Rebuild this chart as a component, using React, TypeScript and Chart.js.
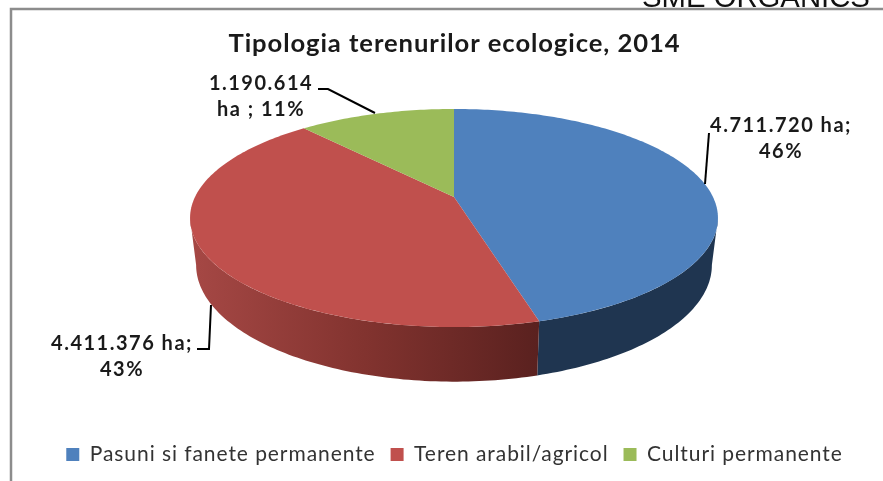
import React, { useEffect, useRef } from "react";
import { Chart, registerables } from "chart.js";

Chart.register(...registerables);

const categories = ["Pasuni si fanete permanente", "Teren arabil/agricol", "Culturi permanente"];
const hectares = [4711720, 4411376, 1190614];
const topColors = ["#4f81bd", "#c0504d", "#9bbb59"];
const chartTitle = "Tipologia terenurilor ecologice, 2014";
const watermark = "SME ORGANICS";
const sliceLabels = [["4.711.720 ha;", "46%"], ["4.411.376 ha;", "43%"], ["1.190.614", "ha ; 11%"]];

const CX = 454;
const K = 0.1927;
const A = 259;
const B = 105;
const TOP = { y: 197, sx: 1, sy: 1 };
const BOTTOM = { y: 242.6, sx: 0.977, sy: 1.069 };
const STEP = Math.PI / 180;
const TEXT_SPACING = "0.93px";

type Level = { y: number; sx: number; sy: number };

function project(theta: number, r: number, lvl: Level) {
  const u = r * Math.sin(theta);
  const v = -r * Math.cos(theta);
  const w = 1 - K * v;
  return [CX + (lvl.sx * A * u) / w, lvl.y + (lvl.sy * B * v) / w];
}

function tracePath(ctx: CanvasRenderingContext2D, a: number, b: number, lvl: Level, move: boolean) {
  const n = Math.max(2, Math.ceil(Math.abs(b - a) / STEP));
  for (let i = 0; i <= n; i++) {
    const [x, y] = project(a + ((b - a) * i) / n, 1, lvl);
    if (i === 0 && move) ctx.moveTo(x, y);
    else ctx.lineTo(x, y);
  }
}

const spacing = {
  id: "spacing",
  beforeUpdate(chart: any) {
    chart.ctx.letterSpacing = TEXT_SPACING;
  },
  beforeDraw(chart: any) {
    chart.ctx.letterSpacing = TEXT_SPACING;
  },
};

const pie3d = {
  id: "pie3d",
  beforeDatasetDraw(chart: any, args: any) {
    const ctx: CanvasRenderingContext2D = chart.ctx;
    const arcs = args.meta.data;
    const tangent = Math.acos(-K);
    const sideLow = tangent;
    const sideHigh = 2 * Math.PI - tangent;
    ctx.save();
    arcs.forEach((arc: any, i: number) => {
      const a = Math.max(arc.startAngle + Math.PI / 2, sideLow);
      const b = Math.min(arc.endAngle + Math.PI / 2, sideHigh);
      if (b <= a) return;
      ctx.beginPath();
      tracePath(ctx, a, b, TOP, true);
      tracePath(ctx, b, a, BOTTOM, false);
      ctx.closePath();
      if (i === 1) {
        const g = ctx.createLinearGradient(190, 0, 538, 0);
        g.addColorStop(0, "#a64845");
        g.addColorStop(0.5, "#82332f");
        g.addColorStop(1, "#5a211f");
        ctx.fillStyle = g;
      } else {
        ctx.fillStyle = "#1f3550";
      }
      ctx.fill();
    });
    arcs.forEach((arc: any, i: number) => {
      const a = arc.startAngle + Math.PI / 2;
      const b = arc.endAngle + Math.PI / 2;
      ctx.beginPath();
      ctx.moveTo(CX, TOP.y);
      tracePath(ctx, a, b, TOP, false);
      ctx.closePath();
      ctx.fillStyle = topColors[i];
      ctx.fill();
    });
    ctx.restore();
    return false;
  },
};

const decorations = {
  id: "decorations",
  afterDraw(chart: any) {
    const ctx: CanvasRenderingContext2D = chart.ctx;
    ctx.save();
    ctx.strokeStyle = "#8c8c8c";
    ctx.lineWidth = 2.5;
    ctx.beginPath();
    ctx.moveTo(11, 481);
    ctx.lineTo(11, 9);
    ctx.lineTo(883, 9);
    ctx.stroke();

    ctx.letterSpacing = "0px";
    ctx.fillStyle = "#111";
    ctx.font = "29.3px 'Liberation Sans'";
    ctx.textAlign = "left";
    ctx.textBaseline = "alphabetic";
    ctx.fillText(watermark, 642, 7);

    ctx.strokeStyle = "#000";
    ctx.lineWidth = 2;
    const leaders = [
      [[709, 133], [705, 184]],
      [[197, 349], [209, 349], [211, 305]],
      [[318, 89], [328, 89], [375, 113]],
    ];
    leaders.forEach((pts) => {
      ctx.beginPath();
      pts.forEach(([x, y], i) => (i ? ctx.lineTo(x, y) : ctx.moveTo(x, y)));
      ctx.stroke();
    });

    ctx.letterSpacing = "1.5px";
    ctx.fillStyle = "#1a1a1a";
    ctx.font = "bold 20px Lato";
    ctx.textAlign = "center";
    const anchors = [
      [781, 132, 158],
      [122, 350, 376],
      [261, 90, 116],
    ];
    sliceLabels.forEach((lines, i) => {
      const [x, y1, y2] = anchors[i];
      ctx.fillText(lines[0], x, y1);
      ctx.fillText(lines[1], x, y2);
    });
    ctx.restore();
  },
};

export default function App() {
  const ref = useRef<HTMLCanvasElement>(null);
  useEffect(() => {
    const chart = new Chart(ref.current!, {
      type: "pie",
      data: {
        labels: categories,
        datasets: [{ data: hectares, backgroundColor: topColors, borderWidth: 0 }],
      },
      options: {
        animation: false,
        responsive: false,
        layout: { padding: { left: 26, right: 0, top: 28, bottom: 6 } },
        plugins: {
          tooltip: { enabled: false },
          title: {
            display: true,
            text: chartTitle,
            color: "#1a1a1a",
            font: { family: "Lato", size: 25.6, weight: "bold" },
            padding: { top: 0, bottom: 4 },
          },
          legend: {
            position: "bottom",
            labels: {
              color: "#333",
              font: { family: "Lato", size: 21 },
              boxWidth: 13,
              boxHeight: 13,
              padding: 15,
            },
          },
        },
      },
      plugins: [spacing, pie3d, decorations],
    });
    return () => chart.destroy();
  }, []);
  return (
    <canvas
      ref={ref}
      width={883}
      height={481}
      style={{ position: "fixed", left: 0, top: 0, width: 883, height: 481, background: "#fff", filter: "blur(0.5px)" }}
    />
  );
}
